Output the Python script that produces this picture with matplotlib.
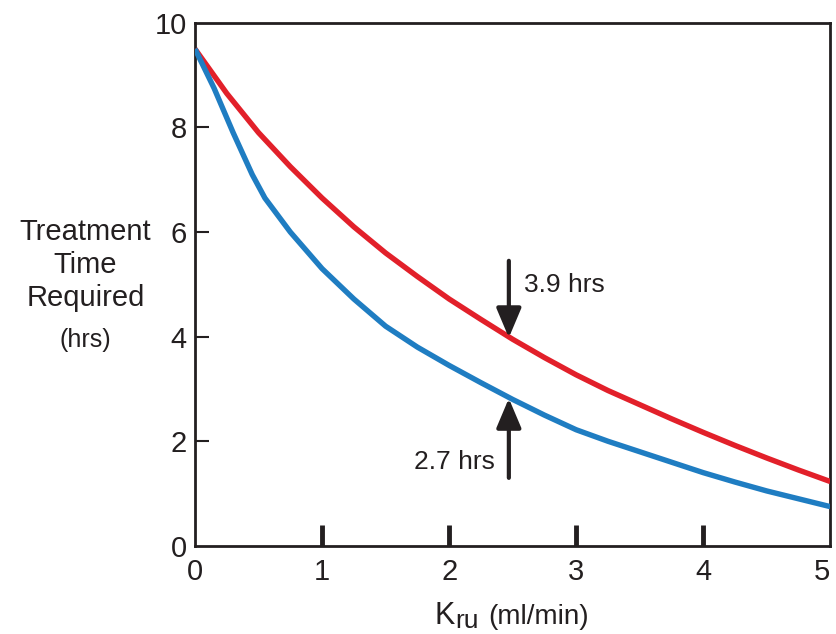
import matplotlib.pyplot as plt

plt.rcParams['font.family'] = ['Liberation Sans', 'DejaVu Sans']

# values
kru_red = [0, 0.25, 0.5, 0.75, 1.0, 1.25, 1.5, 1.75, 2.0, 2.25, 2.5, 2.75,
           3.0, 3.25, 3.5, 3.75, 4.0, 4.25, 4.5, 4.75, 5.0]
time_red = [9.5, 8.65, 7.9, 7.25, 6.65, 6.1, 5.6, 5.15, 4.72, 4.33, 3.95, 3.6,
            3.27, 2.97, 2.7, 2.43, 2.17, 1.92, 1.68, 1.45, 1.23]
kru_blue = [0, 0.15, 0.3, 0.45, 0.55, 0.75, 1.0, 1.25, 1.5, 1.75, 2.0, 2.25,
            2.5, 2.75, 3.0, 3.25, 3.5, 3.75, 4.0, 4.25, 4.5, 4.75, 5.0]
time_blue = [9.5, 8.75, 7.9, 7.1, 6.65, 6.0, 5.3, 4.72, 4.2, 3.8, 3.45, 3.12,
             2.8, 2.5, 2.22, 2.0, 1.8, 1.6, 1.4, 1.22, 1.05, 0.9, 0.75]

red_label, red_at, red_val = '3.9 hrs', 2.47, 3.98
blue_label, blue_at, blue_val = '2.7 hrs', 2.47, 2.82

ink = '#231f20'
fig = plt.figure(figsize=(8.37, 6.34), dpi=100)
ax = fig.add_axes([0.233, 0.139, 0.759, 0.825])

ax.plot(kru_red, time_red, color='#e2202a', lw=3.9, solid_capstyle='butt', zorder=3)
ax.plot(kru_blue, time_blue, color='#1f7dc2', lw=3.9, solid_capstyle='butt', zorder=3)

ax.set_xlim(0, 5)
ax.set_ylim(0, 10)
for s in ax.spines.values():
    s.set_linewidth(2.0)
    s.set_color(ink)

ax.set_xticks([0, 1, 2, 3, 4, 5])
ax.set_yticks([0, 2, 4, 6, 8, 10])
ax.tick_params(axis='x', direction='in', length=15, width=3.5, color=ink,
               labelsize=21, pad=9, labelcolor=ink)
ax.tick_params(axis='y', direction='in', length=10, width=1.5, color=ink,
               labelsize=21, pad=6, labelcolor=ink)
xt = ax.xaxis.get_major_ticks()
xt[0].tick1line.set_visible(False)
xt[-1].tick1line.set_visible(False)
ax.get_xticklabels()[-1].set_horizontalalignment('right')
yt = ax.yaxis.get_major_ticks()
yt[0].tick1line.set_visible(False)
yt[-1].tick1line.set_visible(False)

# arrows
arrow = dict(arrowstyle='-|>,head_length=0.9,head_width=0.38', mutation_scale=20,
             color=ink, lw=3, shrinkA=0, shrinkB=0)
ax.annotate('', xy=(red_at, red_val), xytext=(red_at, 5.45), arrowprops=arrow)
ax.annotate('', xy=(blue_at, blue_val), xytext=(blue_at, 1.3), arrowprops=arrow)
ax.text(2.59, 4.99, red_label, fontsize=19, color=ink, ha='left', va='center')
ax.text(2.36, 1.6, blue_label, fontsize=19, color=ink, ha='right', va='center')

fig.text(0.102, 0.582, 'Treatment\nTime\nRequired', fontsize=21, color=ink,
         ha='center', va='center', linespacing=1.22)
fig.text(0.102, 0.464, '(hrs)', fontsize=18, color=ink, ha='center', va='center')

# x label: K with a lowered "ru"
fig.text(435 / 837, 1 - 624 / 634, 'K', fontsize=22, color=ink, ha='left', va='baseline')
fig.text(455 / 837, 1 - 628 / 634, 'ru', fontsize=19, color=ink, ha='left', va='baseline')
fig.text(488 / 837, 1 - 624 / 634, '(ml/min)', fontsize=20, color=ink, ha='left', va='baseline')

fig.savefig('out.png', dpi=100)
